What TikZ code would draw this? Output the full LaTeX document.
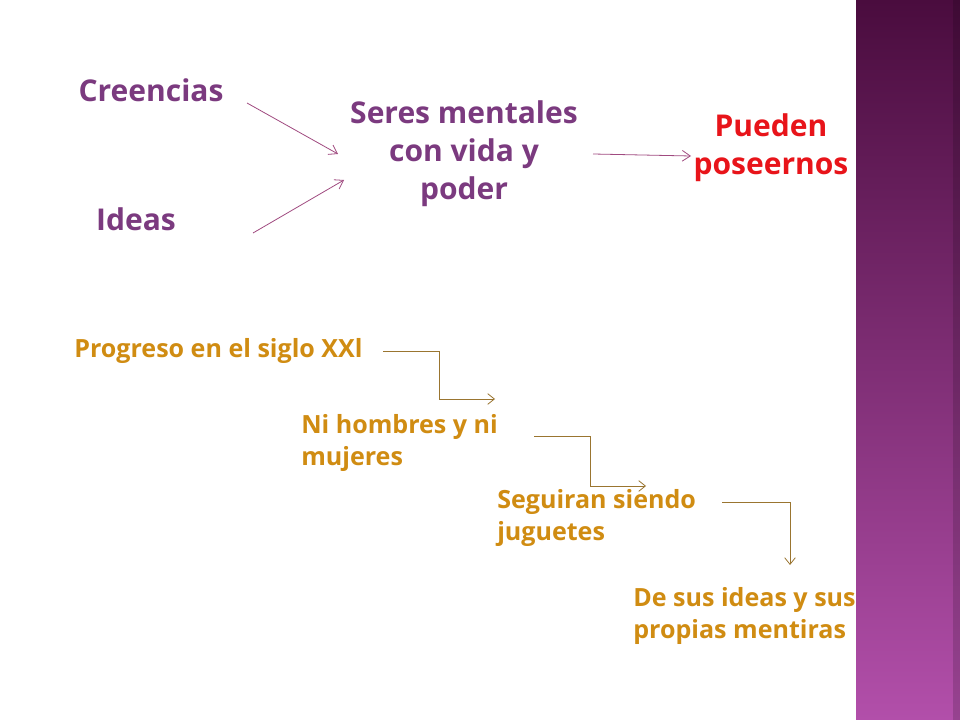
\documentclass[tikz,border=0pt]{standalone}
\usepackage{fontspec}
\setmainfont{Open Sans}
\usetikzlibrary{arrows.meta}
\definecolor{tpurple}{HTML}{7B3A7F}
\definecolor{tred}{HTML}{E8141A}
\definecolor{tgold}{HTML}{D08C12}
\definecolor{tline}{HTML}{9A7530}
\definecolor{tarrow}{HTML}{A04A80}
\definecolor{bartop}{HTML}{4A0C3E}
\definecolor{barbot}{HTML}{B24FAA}
\tikzset{
  big/.style={font=\fontsize{22.5}{28.5}\selectfont\bfseries, text=tpurple, align=center, inner sep=0},
  small/.style={font=\fontsize{18.8}{24}\selectfont\bfseries, text=tgold, align=left, anchor=north west, inner sep=0},
  elbow/.style={draw=tline, line width=0.6pt, -{Straight Barb[length=5pt,width=8pt]}},
  diag/.style={draw=tarrow, line width=0.6pt, -{Straight Barb[length=6pt,width=8pt]}}
}
\begin{document}
\begin{tikzpicture}[x=0.75pt,y=-0.75pt]
\useasboundingbox (0,0) rectangle (960,720);
\fill[white] (0,0) rectangle (960,720);
\shade[top color=bartop, bottom color=barbot] (856,0) rectangle (960,720);
\shade[left color=black, right color=black, opacity=0.15] (953,0) rectangle (960,720);
\node[big] (cre) at (151,90) {Creencias};
\node[big] (ide) at (136,219) {Ideas};
\node[big] (ser) at (464,154) {Seres mentales\\con vida y\\poder};
\node[big, text=tred] (pue) at (771,148) {Pueden\\poseernos};
\coordinate (c1) at (247,103); \coordinate (c2) at (338,154);
\coordinate (i1) at (253,233); \coordinate (i2) at (344,180);
\coordinate (s1) at (593,154); \coordinate (s2) at (691,156);
\draw[diag] (c1) -- (c2);
\draw[diag] (i1) -- (i2);
\draw[diag] (s1) -- (s2);
\node[small] (p1) at (74,338) {Progreso en el siglo XXl};
\node[small] (p2) at (301,414) {Ni hombres y ni\\mujeres};
\node[small] (p3) at (497,489) {Seguiran siendo\\juguetes};
\node[small] (p4) at (633,587) {De sus ideas y sus\\propias mentiras};
\coordinate (a1) at (383,351); \coordinate (a2) at (495,399);
\coordinate (b1) at (534,436); \coordinate (b2) at (646,486);
\coordinate (d1) at (722,502); \coordinate (d2) at (790,565);
\draw[elbow] (a1) -| (439,399) -- (a2);
\draw[elbow] (b1) -| (590,486) -- (b2);
\draw[elbow] (d1) -| (d2);
\end{tikzpicture}
\end{document}
